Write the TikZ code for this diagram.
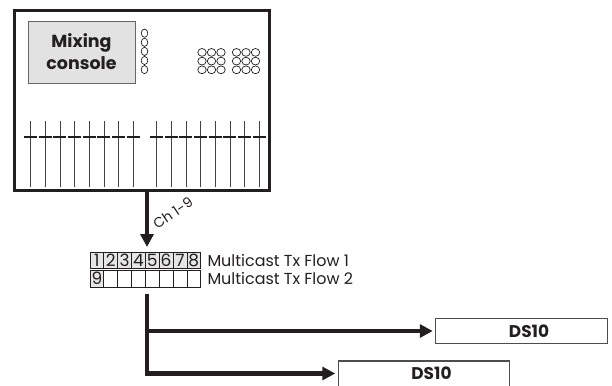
\documentclass[tikz,border=0pt]{standalone}
\usepackage{fontspec}
\setmainfont{Poppins}
\usetikzlibrary{arrows.meta,calc}
\definecolor{ink}{HTML}{231F20}
\definecolor{panel}{HTML}{E2E2E2}
\definecolor{cellgrey}{HTML}{E6E6E6}
\begin{document}
\begin{tikzpicture}[x=1bp,y=-1bp,
  every node/.style={inner sep=0pt, outer sep=0pt, text=ink},
  consolebox/.style={draw=ink, line width=3bp, minimum width=255bp, minimum height=180bp},
  panelbox/.style={draw=gray!80!black, fill=panel, line width=0.8bp, minimum width=107bp, minimum height=62bp,
    font=\bfseries\fontsize{17.5}{22}\selectfont, align=center},
  knob/.style={draw=ink, line width=0.7bp},
  fader/.style={draw=ink!85, line width=0.9bp},
  fadercap/.style={draw=ink, line width=2.4bp},
  cell/.style={draw=ink, line width=0.7bp, minimum width=13.84bp, minimum height=16.3bp,
    font=\fontsize{17}{17}\selectfont},
  greycell/.style={cell, fill=cellgrey},
  flowlabel/.style={anchor=west, font=\fontsize{16}{18}\selectfont},
  thickline/.style={draw=ink, line width=4.6bp},
  thickarrow/.style={thickline, -{Triangle[length=13bp,width=13bp]}},
  dsbox/.style={draw=ink!80, line width=1.3bp, minimum width=171.5bp, minimum height=25.3bp,
    font=\bfseries\fontsize{17}{19}\selectfont}
]
\useasboundingbox (0,0) rectangle (612,385);

% console
\node[consolebox] (console) at (142,100.5) {};
\node[panelbox] (panel) at (81.5,52) {Mixing\\console};

% knobs column
\foreach \i in {0,...,4} {
  \draw[knob] (144.5,{33.2+9.1*\i}) ellipse [x radius=3.3, y radius=4.1];
}
% knob grid
\foreach \cx in {202,211.5,221,236.5,246,255.5} {
  \foreach \cy in {52.4,61.1,69.8} {
    \draw[knob] (\cx,\cy) ellipse [x radius=4.2, y radius=3.9];
  }
}

% faders
\foreach \g in {30.7,156.7} {
  \foreach \i in {0,...,7} {
    \pgfmathsetmacro\fx{\g+14.66*\i}
    \draw[fader] (\fx,121) -- (\fx,187);
    \draw[fadercap] (\fx-6.6,136.7) -- (\fx+6.3,136.7);
  }
}

% channel cells
\foreach \i in {1,...,8} {
  \node[greycell] (a\i) at ({90+6.92+13.84*(\i-1)},260.3) {\i};
}
\node[greycell] (b1) at ({90+6.92},278.7) {9};
\foreach \i in {2,...,8} {
  \node[cell] (b\i) at ({90+6.92+13.84*(\i-1)},278.7) {};
}
\node[flowlabel] (f1) at (207.5,260.3) {Multicast Tx Flow 1};
\node[flowlabel] (f2) at (207.5,278.7) {Multicast Tx Flow 2};

% arrow down
\coordinate (tipdown) at (147,247);
\draw[thickarrow] (console.south -| tipdown) -- (tipdown);
\node[font=\fontsize{14}{16}\selectfont, rotate=34] (ch) at (173,213) {Ch 1-9};

% DS10 boxes
\node[dsbox] (ds1) at (521.5,331) {\hspace*{15bp}DS10};
\node[dsbox] (ds2) at (424,373.5) {\hspace*{15bp}DS10};

% distribution
\coordinate (vtop) at (147,293.5);
\coordinate (corner) at (147,373.5);
\draw[thickarrow, shorten >=3bp] (vtop) -- (corner) -- (ds2.west);
\draw[thickarrow, shorten >=3bp] (vtop |- ds1.west) -- (ds1.west);
\end{tikzpicture}
\end{document}
